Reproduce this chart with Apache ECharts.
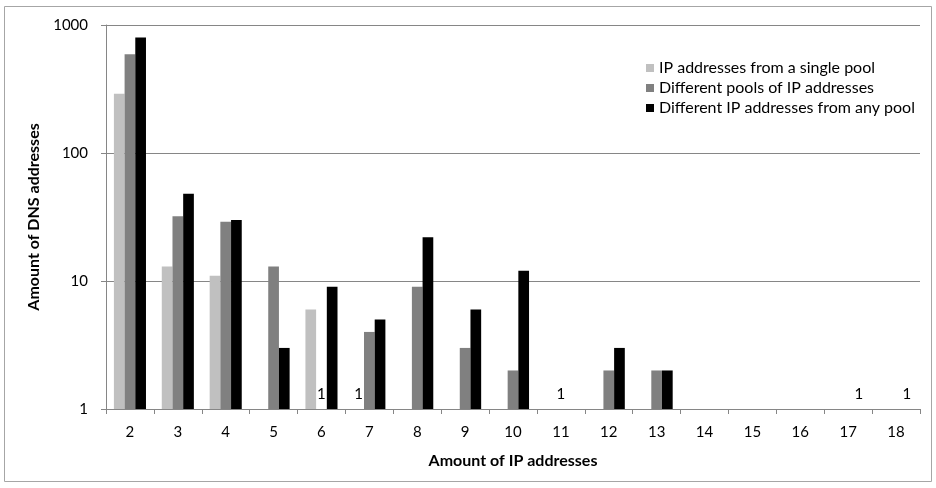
<!DOCTYPE html>
<html>
<head>
<meta charset="utf-8">
<script src="https://cdn.jsdelivr.net/npm/echarts@6/dist/echarts.min.js"></script>
<style>
html,body{margin:0;padding:0;background:#fff;}
#chart{width:936px;height:488px;}
</style>
</head>
<body>
<div id="chart"></div>
<script>
var categories = ['2','3','4','5','6','7','8','9','10','11','12','13','14','15','16','17','18'];
var singlePool = [290, 13, 11, null, 6, 1, null, null, null, null, null, null, null, null, null, null, null];
var differentPools = [590, 32, 29, 13, 1, 4, 9, 3, 2, 1, 2, 2, null, null, null, null, null];
var anyPool = [800, 48, 30, 3, 9, 5, 22, 6, 12, null, 3, 2, null, null, null, 1, 1];
var yTickLabels = ['1', '10', '100', '1000'];
var seriesNames = ['IP addresses from a single pool', 'Different pools of IP addresses', 'Different IP addresses from any pool'];
var seriesColors = ['#C0C0C0', '#808080', '#000000'];

var FONT = 'Lato';
var chart = echarts.init(document.getElementById('chart'));

function mkSeries(name, data, color) {
  return {
    name: name,
    type: 'bar',
    data: data,
    barGap: '0%',
    barCategoryGap: '33%',
    itemStyle: { color: color },
    label: {
      show: true,
      position: 'top',
      distance: 7,
      fontFamily: FONT,
      fontSize: 15,
      color: '#000',
      formatter: function (p) { return p.value === 1 ? '1' : ''; }
    }
  };
}

chart.setOption({
  animation: false,
  backgroundColor: '#fff',
  graphic: [{
    type: 'rect',
    shape: { x: 4.5, y: 6.5, width: 927, height: 475 },
    style: { fill: 'none', stroke: '#A6A6A6', lineWidth: 1 },
    silent: true
  }],
  grid: { left: 106, right: 16, top: 25, bottom: 79, containLabel: false },
  legend: {
    orient: 'vertical',
    left: 641,
    top: 55,
    itemWidth: 8,
    itemHeight: 8,
    itemGap: 4,
    icon: 'rect',
    textStyle: { fontFamily: FONT, fontSize: 16, color: '#000', lineHeight: 16 },
    data: seriesNames
  },
  xAxis: {
    type: 'category',
    data: categories,
    name: 'Amount of IP addresses',
    nameLocation: 'middle',
    nameGap: 44,
    nameTextStyle: { fontFamily: FONT, fontSize: 16, fontWeight: 'bold', color: '#000' },
    axisLine: { lineStyle: { color: '#868686' } },
    axisTick: { show: true, length: 5, lineStyle: { color: '#868686' } },
    axisLabel: { fontFamily: FONT, fontSize: 15, color: '#000', margin: 16 },
    splitLine: { show: false }
  },
  yAxis: {
    type: 'log',
    logBase: 10,
    min: 1,
    max: 1000,
    name: 'Amount of DNS addresses',
    nameLocation: 'middle',
    nameGap: 46,
    nameTextStyle: { fontFamily: FONT, fontSize: 16, fontWeight: 'bold', color: '#000' },
    axisLine: { show: true, lineStyle: { color: '#868686' } },
    axisTick: { show: true, length: 5, lineStyle: { color: '#868686' } },
    axisLabel: {
      fontFamily: FONT, fontSize: 15, color: '#000', margin: 18,
      formatter: function (v) {
        var i = Math.round(Math.log(v) / Math.LN10);
        return yTickLabels[i] !== undefined ? yTickLabels[i] : String(v);
      }
    },
    splitLine: { show: true, lineStyle: { color: '#868686', width: 1 } }
  },
  series: [
    mkSeries(seriesNames[0], singlePool, seriesColors[0]),
    mkSeries(seriesNames[1], differentPools, seriesColors[1]),
    mkSeries(seriesNames[2], anyPool, seriesColors[2])
  ]
});
</script>
</body>
</html>
